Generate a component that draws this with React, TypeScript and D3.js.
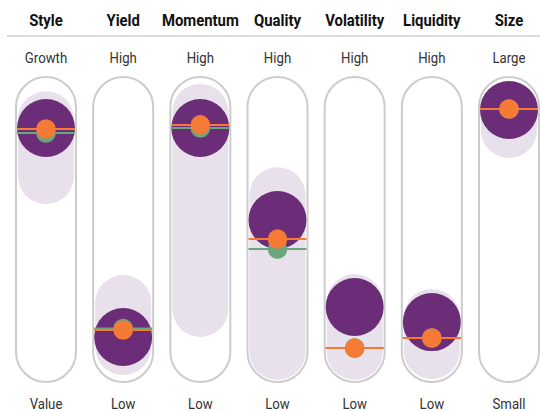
import React from "react";
import * as d3 from "d3";

const categories = ["Style", "Yield", "Momentum", "Quality", "Volatility", "Liquidity", "Size"];
const highLabels = ["Growth", "High", "High", "High", "High", "High", "Large"];
const lowLabels = ["Value", "Low", "Low", "Low", "Low", "Low", "Small"];
// scores on 0-100 scale (0 = low, 100 = high)
const rangeHigh = [95, 20, 98, 64, 20.4, 14.3, 99.2];
const rangeLow = [71.8, 2, 17.6, 0, 0, 0.4, 90.6];
const portfolio = [91.4, 6.1, 91.4, 53.9, 18.4, 12.2, 98.8];
const benchmarkA = [91.0, 9.0, 92.7, 46.1, 1.6, 5.7, 99.2]; // orange
const benchmarkB = [89.4, 9.6, 91.4, 42.0, 1.6, 5.7, 99.2]; // green

const W = 540;
const H = 411;
const capTop = 77;
const capBottom = 382;
const capW = 60;
const capR = 30;

export default function App() {
  const x = d3.scalePoint<string>().domain(categories).range([46, 509]);
  const y = d3.scaleLinear().domain([0, 100]).range([capBottom - capR, capTop + capR]);
  const bandR = 28;
  const dotR = 29;
  const smallR = 9.8;

  return (
    <div style={{ position: "absolute", left: 0, top: 0 }}>
      <svg width={W} height={H} style={{ display: "block" }}>
        <line x1={7} x2={540} y1={36} y2={36} stroke="#dcdcdc" strokeWidth={2} />
        {categories.map((c, i) => {
          const cx = x(c)!;
          const bTop = y(rangeHigh[i]) - bandR;
          const bBot = y(rangeLow[i]) + bandR;
          return (
            <g key={c}>
              <text transform={`translate(${cx},25.5) scale(0.93,1)`} textAnchor="middle" fontFamily="Roboto, sans-serif" fontWeight={700} fontSize={16} fill="#111">
                {c}
              </text>
              <text transform={`translate(${cx},63) scale(0.88,1)`} textAnchor="middle" fontFamily="Roboto, sans-serif" fontSize={15} fill="#333">
                {highLabels[i]}
              </text>
              <text transform={`translate(${cx},408.5) scale(0.88,1)`} textAnchor="middle" fontFamily="Roboto, sans-serif" fontSize={15} fill="#333">
                {lowLabels[i]}
              </text>
              <rect x={cx - capW / 2} y={capTop} width={capW} height={capBottom - capTop} rx={capR} ry={capR} fill="#fff" stroke="#cccccc" strokeWidth={2} />
              <rect x={cx - bandR} y={bTop} width={bandR * 2} height={bBot - bTop} rx={bandR} ry={bandR} fill="#e8e0ea" />
              <circle cx={cx} cy={y(portfolio[i])} r={dotR} fill="#6b2d77" />
              <line x1={cx - 29} x2={cx + 29} y1={y(benchmarkB[i])} y2={y(benchmarkB[i])} stroke="#6aa57b" strokeWidth={2} />
              <circle cx={cx} cy={y(benchmarkB[i])} r={smallR} fill="#6aa57b" />
              <line x1={cx - 29} x2={cx + 29} y1={y(benchmarkA[i])} y2={y(benchmarkA[i])} stroke="#f47a35" strokeWidth={2} />
              <circle cx={cx} cy={y(benchmarkA[i])} r={smallR} fill="#f47a35" />
            </g>
          );
        })}
      </svg>
    </div>
  );
}
